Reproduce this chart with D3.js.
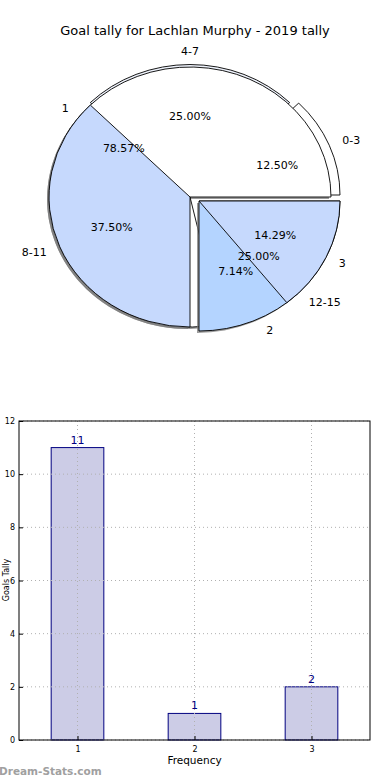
<!DOCTYPE html>
<html><head><meta charset="utf-8">
<script src="https://cdn.jsdelivr.net/npm/d3@7"></script>
<style>
html,body{margin:0;padding:0;background:#fff;}
svg{display:block;font-family:"DejaVu Sans",sans-serif;}
</style></head>
<body>
<svg id="c" width="390" height="780"></svg>
<script>
// ---- data ----
const title = "Goal tally for Lachlan Murphy - 2019 tally";
const pieALabels = ["0-3", "4-7", "8-11", "12-15"];
const pieAValues = [1, 2, 3, 2];
const pieAColors = ["#ffffff", "#ffffff", "#c6d9fd", "#b4d4ff"];
const pieBLabels = ["1", "2", "3"];
const pieBValues = [11, 1, 2];
const pieBColors = ["#ffffff", "#b4d4ff", "#c6d9fd"];
const barCategories = [1, 2, 3];
const barValues = [11, 1, 2];
const yTicks = [0, 2, 4, 6, 8, 10, 12];
const xLabel = "Frequency";
const yLabel = "Goals Tally";
const watermark = "Dream-Stats.com";

const svg = d3.select("#c");

// ---- title ----
svg.append("text").attr("x", 195).attr("y", 35).attr("text-anchor", "middle")
  .attr("font-size", 13).text(title);

// ---- pie geometry ----
const cx = 190, cy = 197, rx = 141, ry = 130;
const pieGen = d3.pie().sort(null).startAngle(Math.PI / 2).endAngle(Math.PI / 2 - 2 * Math.PI);
const arcsA = pieGen(pieAValues);
const arcsB = pieGen(pieBValues);
const arcU = d3.arc().innerRadius(0).outerRadius(1);
// per-wedge pixel offsets (explode)
const offA = [[9, -2], [0, -2.5], [0, 0], [9, 4]];
const offB = [[0, 0], [9, 4], [9, 4]];

const pieG = svg.append("g");
function wedge(a, fill, off, shadow) {
  if (shadow) {
    pieG.append("path").attr("d", arcU(a))
      .attr("transform", `translate(${cx + off[0] - 2},${cy + off[1] + 2}) scale(${rx},${ry})`)
      .attr("fill", "#7a7a7a").attr("opacity", 0.75);
  }
  pieG.append("path").attr("d", arcU(a))
    .attr("transform", `translate(${cx + off[0]},${cy + off[1]}) scale(${rx},${ry})`)
    .attr("fill", fill).attr("stroke", "#000").attr("stroke-width", 0.9)
    .attr("vector-effect", "non-scaling-stroke").attr("stroke-linejoin", "round");
}
// layering
wedge(arcsA[1], "#eef2fb", offA[1], false);
wedge(arcsA[0], pieAColors[0], offA[0], false);
wedge(arcsB[0], pieBColors[0], offB[0], true);
wedge(arcsA[2], pieAColors[2], offA[2], true);
wedge(arcsA[3], pieAColors[3], offA[3], true);
wedge(arcsB[2], pieBColors[2], offB[2], false);

function mid(a) { return (a.startAngle + a.endAngle) / 2; }
function labels(arcs, names, values, offs) {
  const tot = d3.sum(values);
  arcs.forEach((a, i) => {
    const m = mid(a), ux = Math.sin(m), uy = -Math.cos(m);
    const lx = cx + offs[i][0] + rx * 1.1 * ux, ly = cy + offs[i][1] + ry * 1.1 * uy;
    svg.append("text").attr("x", lx).attr("y", ly).attr("dy", "0.35em")
      .attr("text-anchor", ux > 0.01 ? "start" : (ux < -0.01 ? "end" : "middle"))
      .attr("font-size", 11).text(names[i]);
    const px = cx + offs[i][0] + rx * 0.6 * ux, py = cy + offs[i][1] + ry * 0.6 * uy;
    svg.append("text").attr("x", px).attr("y", py).attr("dy", "0.35em")
      .attr("text-anchor", "middle").attr("font-size", 11)
      .text((values[i] / tot * 100).toFixed(2) + "%");
  });
}
labels(arcsA, pieALabels, pieAValues, offA);
labels(arcsB, pieBLabels, pieBValues, offB);

// ---- bar chart ----
const L = 19, R = 370, T = 421, B = 740;
const x = d3.scaleLinear().domain([0.5, 3.5]).range([L, R]);
const y = d3.scaleLinear().domain([0, 12]).range([B, T]);
const bw = x(1.45) - x(1);

svg.append("g").selectAll("rect").data(barValues).join("rect")
  .attr("x", (d, i) => x(barCategories[i]) - bw / 2).attr("width", bw)
  .attr("y", d => y(d)).attr("height", d => B - y(d))
  .attr("fill", "#cccce6").attr("stroke", "#000080").attr("stroke-width", 1);

// grid
const grid = svg.append("g").attr("stroke", "#b0b0b0").attr("stroke-dasharray", "1,3").attr("stroke-width", 1);
yTicks.forEach(t => grid.append("line").attr("x1", L).attr("x2", R).attr("y1", y(t)).attr("y2", y(t)));
barCategories.forEach(c => grid.append("line").attr("x1", x(c)).attr("x2", x(c)).attr("y1", T).attr("y2", B));

// value labels
svg.append("g").selectAll("text").data(barValues).join("text")
  .attr("x", (d, i) => x(barCategories[i])).attr("y", d => y(d) - 4)
  .attr("text-anchor", "middle").attr("font-size", 11).attr("fill", "#000080").text(d => d);

// axes
const ax = svg.append("g").attr("transform", `translate(0,${B})`)
  .call(d3.axisBottom(x).tickValues(barCategories).tickSize(-4).tickPadding(6).tickFormat(d3.format("d")));
const ay = svg.append("g").attr("transform", `translate(${L},0)`)
  .call(d3.axisLeft(y).tickValues(yTicks).tickSize(-4).tickPadding(4).tickFormat(d3.format("d")));
[ax, ay].forEach(g => {
  g.select(".domain").remove();
  g.selectAll("text").attr("font-size", 8).attr("font-family", "DejaVu Sans, sans-serif");
  g.selectAll("line").attr("stroke", "#000");
});
svg.append("rect").attr("x", L).attr("y", T).attr("width", R - L).attr("height", B - T)
  .attr("fill", "none").attr("stroke", "#000").attr("stroke-width", 1);

svg.append("text").attr("x", x(2)).attr("y", 764).attr("text-anchor", "middle")
  .attr("font-size", 10.5).text(xLabel);
svg.append("text").attr("transform", "translate(8.5,580) rotate(-90)").attr("text-anchor", "middle")
  .attr("font-size", 8).text(yLabel);

svg.append("text").attr("x", -1).attr("y", 775).attr("font-size", 10.5).attr("font-weight", "bold")
  .attr("fill", "#a0a0a0").text(watermark);
</script>
</body></html>
